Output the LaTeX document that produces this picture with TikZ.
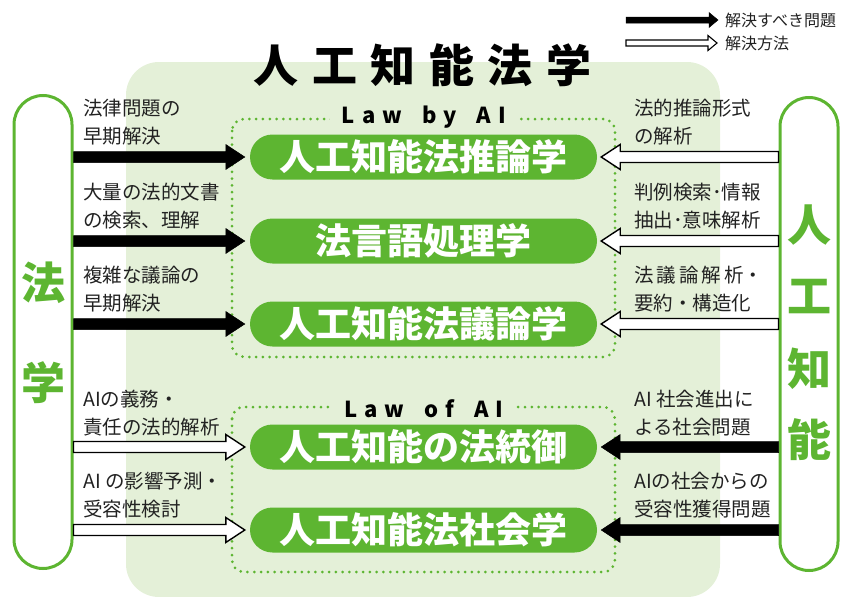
\documentclass[tikz,border=0pt]{standalone}
\usepackage{fontspec}
\setmainfont{Noto Sans CJK JP}
\usetikzlibrary{calc}
\definecolor{lawgreen}{HTML}{5DB531}
\definecolor{lawbg}{HTML}{E4F0D8}
\definecolor{ink}{HTML}{222222}
\def\ash{5.5}\def\ahh{12.5}\def\ahl{19}
\newcommand{\lsp}{\hspace{7pt}}
\newcommand{\wsp}{\hspace{20pt}}
\tikzset{
  bigarr/.code={\def\ash{5.5}\def\ahh{12.5}\def\ahl{19}},
  smallarr/.code={\def\ash{3}\def\ahh{7.5}\def\ahl{9}},
  shapearrow/.style={to path={let \p1=(\tikztostart), \p2=(\tikztotarget),
     \n1={\x2-\ahl*sign(\x2-\x1)} in
     (\x1,\y1+\ash pt) -- (\n1,\y1+\ash pt) -- (\n1,\y1+\ahh pt) -- (\x2,\y1)
     -- (\n1,\y1-\ahh pt) -- (\n1,\y1-\ash pt) -- (\x1,\y1-\ash pt) -- cycle}},
  solidarr/.style={shapearrow, fill=black, draw=black, line width=0.5pt, line join=miter},
  hollowarr/.style={shapearrow, fill=white, draw=black, line width=1.4pt, line join=miter},
  pill/.style={fill=lawgreen, text=white, rounded corners=22.5pt, minimum width=347pt,
     minimum height=45pt, inner sep=0pt, font=\fontsize{36}{36}\selectfont\bfseries},
  sidebar/.style={draw=lawgreen, line width=3pt, rounded corners=29pt, minimum width=58pt,
     minimum height=473pt, inner sep=0pt},
  sidechar/.style={text=lawgreen, inner sep=0pt, font=\fontsize{44}{44}\selectfont\bfseries},
  lab/.style={anchor=west, align=left, text=ink, inner sep=0pt, font=\fontsize{19.5}{28}\selectfont},
  leglab/.style={anchor=west, text=ink, inner sep=0pt, font=\fontsize{16}{16}\selectfont},
  dotbox/.style={draw=lawgreen, line width=3pt, line cap=round, dash pattern=on 0pt off 6.8pt,
     rounded corners=12pt},
  boxlab/.style={fill=lawbg, inner xsep=12pt, inner ysep=1pt, text=black,
     font=\fontsize{22}{22}\selectfont\bfseries},
  titlestyle/.style={inner sep=0pt, text=black, font=\fontsize{45}{45}\selectfont\bfseries},
}
\begin{document}
\begin{tikzpicture}[x=1pt,y=-1pt]
\useasboundingbox (0,0) rectangle (846,597);
% background panel
\fill[lawbg, rounded corners=33pt] (126,62) rectangle (720,597);
% title
\node[titlestyle] (T) at (422.5,65) {人\hspace{13.6pt}工\hspace{13.6pt}知\hspace{13.6pt}能\hspace{13.6pt}法\hspace{13.6pt}学};
% dotted group boxes
\draw[dotbox] (232,119) rectangle (615,357);
\draw[dotbox] (232,407) rectangle (615,572);
\node[boxlab, anchor=base] (LB) at (424,123) {L\lsp a\lsp w\wsp b\lsp y\wsp A\lsp I};
\node[boxlab, anchor=base] (LO) at (424,417) {L\lsp a\lsp w\wsp o\lsp f\wsp A\lsp I};
% side bars
\node[sidebar] (L) at (43,332) {};
\node[sidebar] (R) at (809,334) {};
\node[sidechar] (L1) at (43,283) {法};
\node[sidechar] (L2) at (43,383) {学};
\node[sidechar] (R1) at (809,225) {人};
\node[sidechar] (R2) at (809,297) {工};
\node[sidechar] (R3) at (809,369) {知};
\node[sidechar] (R4) at (809,440) {能};
% green pills
\node[pill] (p1) at (423.5,157) {人工知能法推論学};
\node[pill] (p2) at (423.5,241) {法言語処理学};
\node[pill] (p3) at (423.5,324) {人工知能法議論学};
\node[pill] (p4) at (423.5,447) {人工知能の法統御};
\node[pill] (p5) at (423.5,530) {人工知能法社会学};
% left labels
\node[lab] (a1) at (83,122.5) {法律問題の\\早期解決};
\node[lab] (a2) at (83,206.5) {大量の法的文書\\の検索、理解};
\node[lab] (a3) at (83,289.5) {複雑な議論の\\早期解決};
\node[lab] (a4) at (83,413.5) {AIの義務・\\責任の法的解析};
\node[lab] (a5) at (83,495.5) {AI の影響予測・\\受容性検討};
% right labels
\node[lab] (b1) at (634,122.5) {法的推論形式\\の解析};
\node[lab] (b2) at (634,206.5) {判例検索･情報\\抽出･意味解析};
\node[lab] (b3) at (634,289.5) {法\hspace{3pt}議\hspace{3pt}論\hspace{3pt}解\hspace{3pt}析・\\要約・構造化};
\node[lab] (b4) at (634,413.5) {AI 社会進出に\\よる社会問題};
\node[lab] (b5) at (634,495.5) {AIの社会からの\\受容性獲得問題};
% arrows from left bar
\draw[solidarr] (L.east |- p1) to ([xshift=-5pt]p1.west);
\draw[solidarr] (L.east |- p2) to ([xshift=-5pt]p2.west);
\draw[solidarr] (L.east |- p3) to ([xshift=-5pt]p3.west);
\draw[hollowarr] (L.east |- p4) to ([xshift=-5pt]p4.west);
\draw[hollowarr] (L.east |- p5) to ([xshift=-5pt]p5.west);
% arrows from right bar
\draw[hollowarr] (R.west |- p1) to ([xshift=4pt]p1.east);
\draw[hollowarr] (R.west |- p2) to ([xshift=4pt]p2.east);
\draw[hollowarr] (R.west |- p3) to ([xshift=4pt]p3.east);
\draw[solidarr] (R.west |- p4) to ([xshift=4pt]p4.east);
\draw[solidarr] (R.west |- p5) to ([xshift=4pt]p5.east);
% legend
\coordinate (k1s) at (626,20);
\coordinate (k2s) at (626,43);
\node[leglab] (k1) at (725,20) {解決すべき問題};
\node[leglab] (k2) at (725,43) {解決方法};
\draw[solidarr, smallarr] (k1s) to ([xshift=-7pt]k1.west);
\draw[hollowarr, smallarr, line width=1.1pt] (k2s) to ([xshift=-8pt]k2.west);
\end{tikzpicture}
\end{document}
